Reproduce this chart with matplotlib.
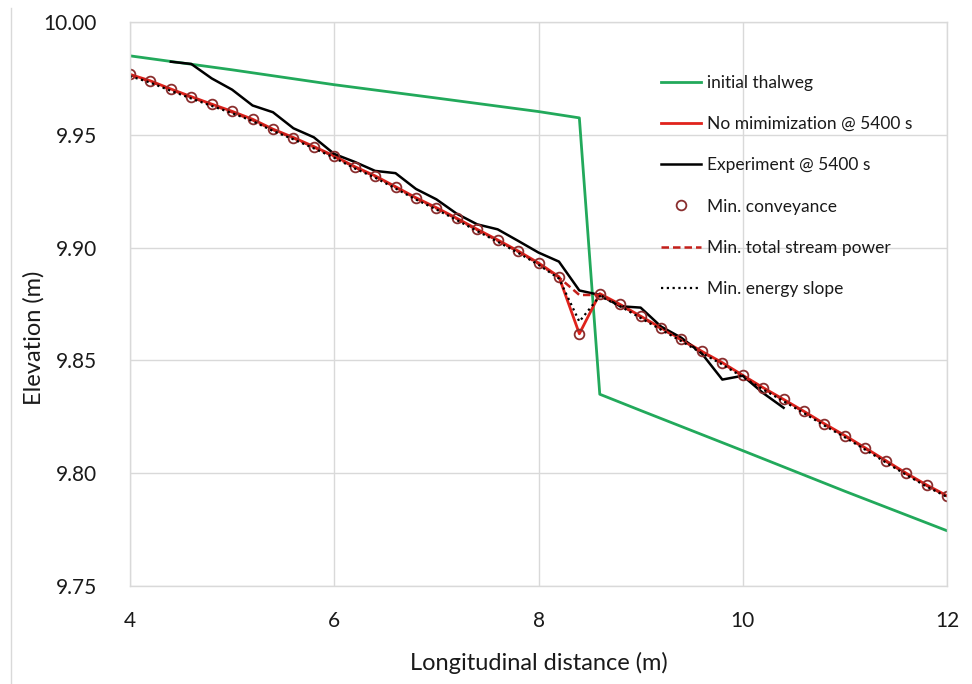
import numpy as np
import matplotlib
matplotlib.use('Agg')
import matplotlib.pyplot as plt
from matplotlib.lines import Line2D

plt.rcParams['font.family'] = ['Lato', 'DejaVu Sans']

# Initial thalweg
x_init = [4.0, 5.0, 6.0, 7.0, 8.0, 8.4, 8.6, 9.0, 10.0, 11.0, 12.0]
z_init = [9.985, 9.9788, 9.9722, 9.9663, 9.9603, 9.9575, 9.835, 9.8278, 9.8100, 9.7920, 9.7745]

# Model runs, every 0.2 m from 4 to 12
x_model = [4.0, 4.2, 4.4, 4.6, 4.8, 5.0, 5.2, 5.4, 5.6, 5.8,
           6.0, 6.2, 6.4, 6.6, 6.8, 7.0, 7.2, 7.4, 7.6, 7.8,
           8.0, 8.2, 8.4, 8.6, 8.8, 9.0, 9.2, 9.4, 9.6, 9.8,
           10.0, 10.2, 10.4, 10.6, 10.8, 11.0, 11.2, 11.4, 11.6, 11.8, 12.0]

z_nomin = [9.9768, 9.9739, 9.9703, 9.9669, 9.9636, 9.9604, 9.9569, 9.9525, 9.9488, 9.9448,
           9.9406, 9.9359, 9.9318, 9.9270, 9.9221, 9.9177, 9.9130, 9.9081, 9.9034, 9.8985,
           9.8932, 9.8871, 9.8618, 9.8796, 9.8748, 9.8696, 9.8644, 9.8593, 9.8540, 9.8490,
           9.8434, 9.8379, 9.8327, 9.8274, 9.8219, 9.8167, 9.8112, 9.8056, 9.8000, 9.7948, 9.7900]

z_conv = [9.9768, 9.9739, 9.9703, 9.9669, 9.9636, 9.9604, 9.9569, 9.9525, 9.9488, 9.9448,
          9.9406, 9.9359, 9.9318, 9.9270, 9.9221, 9.9177, 9.9130, 9.9081, 9.9034, 9.8985,
          9.8932, 9.8871, 9.8618, 9.8796, 9.8748, 9.8696, 9.8644, 9.8593, 9.8540, 9.8490,
          9.8434, 9.8379, 9.8327, 9.8274, 9.8219, 9.8167, 9.8112, 9.8056, 9.8000, 9.7948, 9.7900]

z_power = [9.9765, 9.9736, 9.9700, 9.9666, 9.9633, 9.9600, 9.9565, 9.9522, 9.9485, 9.9445,
           9.9403, 9.9356, 9.9315, 9.9267, 9.9218, 9.9174, 9.9127, 9.9078, 9.9031, 9.8982,
           9.8928, 9.8868, 9.8790, 9.8790, 9.8745, 9.8693, 9.8641, 9.8590, 9.8537, 9.8487,
           9.8431, 9.8376, 9.8324, 9.8271, 9.8216, 9.8164, 9.8109, 9.8053, 9.7997, 9.7945, 9.7898]

z_energy = [9.9760, 9.9731, 9.9695, 9.9661, 9.9628, 9.9596, 9.9561, 9.9517, 9.9480, 9.9440,
            9.9398, 9.9351, 9.9310, 9.9262, 9.9213, 9.9169, 9.9122, 9.9073, 9.9026, 9.8977,
            9.8924, 9.8863, 9.8672, 9.8785, 9.8740, 9.8688, 9.8636, 9.8585, 9.8532, 9.8482,
            9.8426, 9.8371, 9.8319, 9.8266, 9.8211, 9.8159, 9.8104, 9.8048, 9.7993, 9.7941, 9.7895]

# Experiment
x_exp = [4.4, 4.6, 4.8, 5.0, 5.2, 5.4, 5.6, 5.8, 6.0, 6.2, 6.4, 6.6, 6.8, 7.0, 7.2, 7.4,
         7.6, 7.8, 8.0, 8.2, 8.4, 8.6, 8.8, 9.0, 9.2, 9.4, 9.6, 9.8, 10.0, 10.2, 10.4]
z_exp = [9.9824, 9.9814, 9.9750, 9.9700, 9.9630, 9.9600, 9.9529, 9.9489, 9.9415, 9.9380,
         9.9340, 9.9330, 9.9260, 9.9214, 9.9150, 9.9103, 9.9081, 9.9030, 9.8978, 9.8938,
         9.8810, 9.8790, 9.8740, 9.8734, 9.8650, 9.8600, 9.8530, 9.8415, 9.8432, 9.8355, 9.8290]

fig = plt.figure(figsize=(9.72, 6.84), dpi=100)
ax = fig.add_axes([130 / 972, 98 / 684, 817 / 972, 564 / 684])

ax.plot(x_init, z_init, color='#22a95b', lw=2.0, label='initial thalweg')
ax.plot(x_model, z_nomin, color='#e0231c', lw=2.0, label='No mimimization @ 5400 s')
ax.plot(x_exp, z_exp, color='black', lw=1.8, label='Experiment @ 5400 s')
ax.plot(x_model, z_conv, ls='none', marker='o', ms=7, mfc='none', mec='#8a2e2e', mew=1.3,
        label='Min. conveyance')
ax.plot(x_model, z_power, color='#c41f1a', lw=1.8, dashes=(3, 1.6), label='Min. total stream power')
ax.plot(x_model, z_energy, color='black', lw=1.6, ls=(0, (1, 1.6)), label='Min. energy slope')

ax.set_xlim(4, 12)
ax.set_ylim(9.75, 10.0)
ax.set_xticks([4, 6, 8, 10, 12])
ax.set_yticks([9.75, 9.80, 9.85, 9.90, 9.95, 10.00])
ax.yaxis.set_major_formatter(matplotlib.ticker.FormatStrFormatter('%.2f'))
ax.tick_params(length=0, labelsize=15, colors='#1a1a1a')
ax.tick_params(axis='x', pad=18)
ax.tick_params(axis='y', pad=24)
ax.grid(True, color='#d9d9d9', lw=1.0)
ax.set_axisbelow(True)
for s in ax.spines.values():
    s.set_color('#d9d9d9')
    s.set_linewidth(1.0)

ax.set_xlabel('Longitudinal distance (m)', fontsize=17, color='#1a1a1a', labelpad=15)
ax.set_ylabel('Elevation (m)', fontsize=17, color='#1a1a1a')
ax.yaxis.set_label_coords(-0.105, 0.44)

ax.legend(loc='upper left', bbox_to_anchor=(0.65, 0.906), frameon=False, fontsize=12.5,
          handlelength=2.3, handletextpad=0.35, labelspacing=1.45, borderpad=0,
          borderaxespad=0, numpoints=1, labelcolor='#1a1a1a')

fig.add_artist(Line2D([11 / 972, 11 / 972], [0, 1 - 8 / 684], color='#d9d9d9', lw=1.0,
                      transform=fig.transFigure))

fig.savefig('out.png', dpi=100)
